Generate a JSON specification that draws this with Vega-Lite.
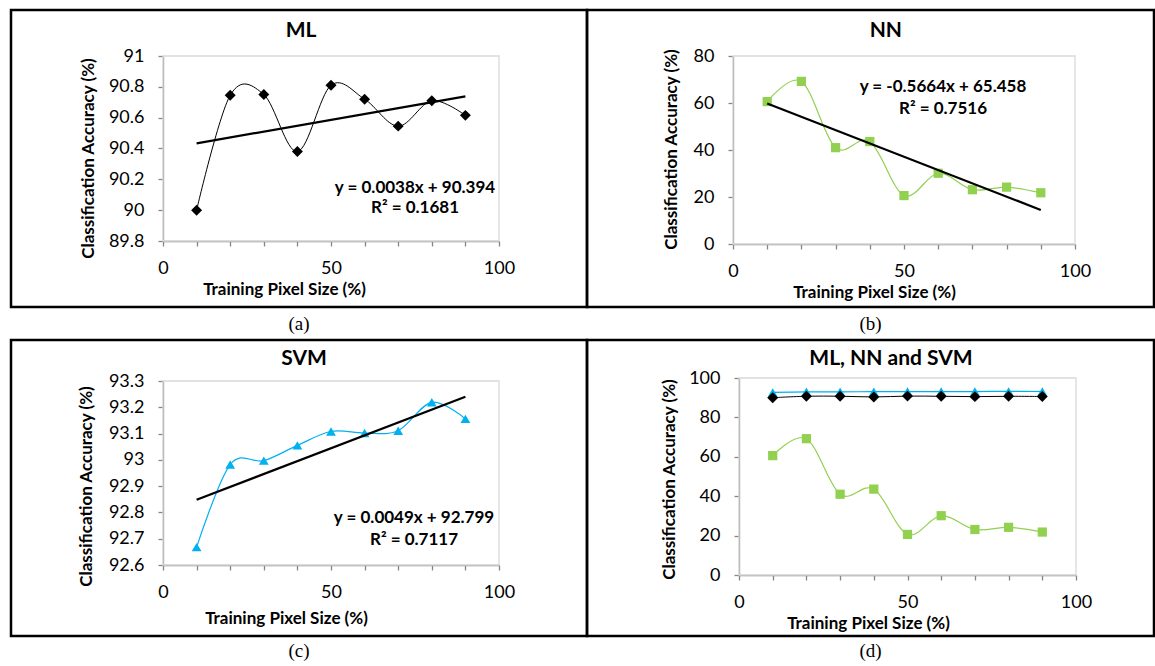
{
  "$schema": "https://vega.github.io/schema/vega-lite/v6.json",
  "background": "white",
  "padding": {"left": 9, "top": 8, "right": 0, "bottom": 0},
  "datasets": {
    "ml": [
      {"x": 10, "acc": 90.0}, {"x": 20, "acc": 90.745}, {"x": 30, "acc": 90.75},
      {"x": 40, "acc": 90.38}, {"x": 50, "acc": 90.81}, {"x": 60, "acc": 90.72},
      {"x": 70, "acc": 90.545}, {"x": 80, "acc": 90.71}, {"x": 90, "acc": 90.615}
    ],
    "nn": [
      {"x": 10, "acc": 60.6}, {"x": 20, "acc": 69.2}, {"x": 30, "acc": 41.0},
      {"x": 40, "acc": 43.6}, {"x": 50, "acc": 20.6}, {"x": 60, "acc": 30.1},
      {"x": 70, "acc": 23.1}, {"x": 80, "acc": 24.2}, {"x": 90, "acc": 21.8}
    ],
    "svm": [
      {"x": 10, "acc": 92.668}, {"x": 20, "acc": 92.982}, {"x": 30, "acc": 92.997},
      {"x": 40, "acc": 93.055}, {"x": 50, "acc": 93.108}, {"x": 60, "acc": 93.102},
      {"x": 70, "acc": 93.111}, {"x": 80, "acc": 93.219}, {"x": 90, "acc": 93.156}
    ]
  },
  "columns": 2,
  "spacing": 0,
  "bounds": "flush",
  "concat": [
    {
      "width": 576, "height": 297,
      "layer": [
        {
          "data": {"values": [{}]},
          "mark": {"type": "rect", "fill": null, "stroke": "#d9d9d9", "strokeWidth": 1.3},
          "encoding": {
            "x": {"datum": 0, "type": "quantitative"}, "x2": {"datum": 100},
            "y": {"datum": 89.8, "type": "quantitative"}, "y2": {"datum": 91}
          }
        },
        {
          "data": {"name": "ml"},
          "mark": {"type": "line", "interpolate": "cardinal", "tension": 0, "color": "#000000", "strokeWidth": 1},
          "encoding": {
            "x": {"field": "x", "type": "quantitative",
              "scale": {"domain": [0, 100], "range": [152, 488], "nice": false, "zero": false},
              "axis": {"orient": "bottom", "offset": -66, "values": [0,10,20,30,40,50,60,70,80,90,100],
                "labelExpr": "datum.value % 50 === 0 ? datum.label : ''",
                "title": "Training Pixel Size (%)", "titleX": 273, "titleY": 48, "titleBaseline": "middle", "titleAlign": "center", "titleAngle": 0}},
            "y": {"field": "acc", "type": "quantitative",
              "scale": {"domain": [89.8, 91], "range": [231, 46], "nice": false, "zero": false},
              "axis": {"orient": "left", "offset": -152, "values": [89.8, 90, 90.2, 90.4, 90.6, 90.8, 91], "format": ".1~f",
                "title": "Classification Accuracy (%)", "titleX": -75, "titleY": 148, "titleBaseline": "middle", "titleAlign": "center", "titleAngle": -90}}
          }
        },
        {
          "data": {"name": "ml"},
          "mark": {"type": "point", "shape": "diamond", "filled": true, "color": "#000000", "size": 120, "opacity": 1},
          "encoding": {"x": {"field": "x", "type": "quantitative"}, "y": {"field": "acc", "type": "quantitative"}}
        },
        {
          "data": {"name": "ml"},
          "transform": [{"regression": "acc", "on": "x"}],
          "mark": {"type": "line", "color": "#000000", "strokeWidth": 2.2},
          "encoding": {"x": {"field": "x", "type": "quantitative"}, "y": {"field": "acc", "type": "quantitative"}}
        },
        {
          "data": {"values": [{}]},
          "mark": {"type": "text", "text": ["y = 0.0038x + 90.394", "R² = 0.1681"], "font": "Lato", "fontWeight": "bold", "fontSize": 17, "lineHeight": 20, "align": "center", "baseline": "middle", "color": "#000000"},
          "encoding": {"x": {"datum": 75, "type": "quantitative"}, "y": {"datum": 90.147, "type": "quantitative"}}
        },
        {
          "data": {"values": [{"t": "ML"}]},
          "mark": {"type": "text", "font": "Lato", "fontWeight": "bold", "fontSize": 21, "align": "center", "baseline": "middle", "color": "#000000"},
          "encoding": {"text": {"field": "t"}, "x": {"datum": 41.1, "type": "quantitative"}, "y": {"datum": 91.162, "type": "quantitative"}}
        }
      ]
    },
    {
      "width": 567, "height": 297,
      "layer": [
        {
          "data": {"values": [{}]},
          "mark": {"type": "rect", "fill": null, "stroke": "#d9d9d9", "strokeWidth": 1.3},
          "encoding": {
            "x": {"datum": 0, "type": "quantitative"}, "x2": {"datum": 100},
            "y": {"datum": 0, "type": "quantitative"}, "y2": {"datum": 80}
          }
        },
        {
          "data": {"name": "nn"},
          "mark": {"type": "line", "interpolate": "cardinal", "tension": 0, "color": "#92d050", "strokeWidth": 1.2},
          "encoding": {
            "x": {"field": "x", "type": "quantitative",
              "scale": {"domain": [0, 100], "range": [146, 488], "nice": false, "zero": false},
              "axis": {"orient": "bottom", "offset": -63, "values": [0,10,20,30,40,50,60,70,80,90,100],
                "labelExpr": "datum.value % 50 === 0 ? datum.label : ''",
                "title": "Training Pixel Size (%)", "titleX": 287, "titleY": 48, "titleBaseline": "middle", "titleAlign": "center", "titleAngle": 0}},
            "y": {"field": "acc", "type": "quantitative",
              "scale": {"domain": [0, 80], "range": [234, 46], "nice": false, "zero": false},
              "axis": {"orient": "left", "offset": -146, "values": [0, 20, 40, 60, 80], "format": "d",
                "title": "Classification Accuracy (%)", "titleX": -62, "titleY": 139, "titleBaseline": "middle", "titleAlign": "center", "titleAngle": -90}}
          }
        },
        {
          "data": {"name": "nn"},
          "mark": {"type": "point", "shape": "square", "filled": true, "color": "#92d050", "size": 85, "opacity": 1},
          "encoding": {"x": {"field": "x", "type": "quantitative"}, "y": {"field": "acc", "type": "quantitative"}}
        },
        {
          "data": {"name": "nn"},
          "transform": [{"regression": "acc", "on": "x"}],
          "mark": {"type": "line", "color": "#000000", "strokeWidth": 2.2},
          "encoding": {"x": {"field": "x", "type": "quantitative"}, "y": {"field": "acc", "type": "quantitative"}}
        },
        {
          "data": {"values": [{}]},
          "mark": {"type": "text", "text": ["y = -0.5664x + 65.458", "R² = 0.7516"], "font": "Lato", "fontWeight": "bold", "fontSize": 17, "lineHeight": 22, "align": "center", "baseline": "middle", "color": "#000000"},
          "encoding": {"x": {"datum": 61.4, "type": "quantitative"}, "y": {"datum": 66.8, "type": "quantitative"}}
        },
        {
          "data": {"values": [{"t": "NN"}]},
          "mark": {"type": "text", "font": "Lato", "fontWeight": "bold", "fontSize": 21, "align": "center", "baseline": "middle", "color": "#000000"},
          "encoding": {"text": {"field": "t"}, "x": {"datum": 44.7, "type": "quantitative"}, "y": {"datum": 90.6, "type": "quantitative"}}
        }
      ]
    },
    {
      "width": 576, "height": 33,
      "data": {"values": [{"cap": "(a)"}]},
      "mark": {"type": "text", "font": "Liberation Serif", "fontSize": 19, "baseline": "middle", "align": "center", "color": "#000000"},
      "encoding": {"text": {"field": "cap"}}
    },
    {
      "width": 567, "height": 33,
      "data": {"values": [{"cap": "(b)"}]},
      "mark": {"type": "text", "font": "Liberation Serif", "fontSize": 19, "baseline": "middle", "align": "center", "color": "#000000"},
      "encoding": {"text": {"field": "cap"}}
    },
    {
      "width": 576, "height": 296,
      "layer": [
        {
          "data": {"values": [{}]},
          "mark": {"type": "rect", "fill": null, "stroke": "#d9d9d9", "strokeWidth": 1.3},
          "encoding": {
            "x": {"datum": 0, "type": "quantitative"}, "x2": {"datum": 100},
            "y": {"datum": 92.6, "type": "quantitative"}, "y2": {"datum": 93.3}
          }
        },
        {
          "data": {"name": "svm"},
          "mark": {"type": "line", "interpolate": "cardinal", "tension": 0, "color": "#00b0f0", "strokeWidth": 1.2},
          "encoding": {
            "x": {"field": "x", "type": "quantitative",
              "scale": {"domain": [0, 100], "range": [152, 488], "nice": false, "zero": false},
              "axis": {"orient": "bottom", "offset": -71, "values": [0,10,20,30,40,50,60,70,80,90,100],
                "labelExpr": "datum.value % 50 === 0 ? datum.label : ''",
                "title": "Training Pixel Size (%)", "titleX": 275, "titleY": 53, "titleBaseline": "middle", "titleAlign": "center", "titleAngle": 0}},
            "y": {"field": "acc", "type": "quantitative",
              "scale": {"domain": [92.6, 93.3], "range": [225, 41], "nice": false, "zero": false},
              "axis": {"orient": "left", "offset": -152, "values": [92.6, 92.7, 92.8, 92.9, 93, 93.1, 93.2, 93.3], "format": ".1~f",
                "title": "Classification Accuracy (%)", "titleX": -77, "titleY": 146, "titleBaseline": "middle", "titleAlign": "center", "titleAngle": -90}}
          }
        },
        {
          "data": {"name": "svm"},
          "mark": {"type": "point", "shape": "triangle-up", "filled": true, "color": "#00b0f0", "size": 95, "opacity": 1},
          "encoding": {"x": {"field": "x", "type": "quantitative"}, "y": {"field": "acc", "type": "quantitative"}}
        },
        {
          "data": {"name": "svm"},
          "transform": [{"regression": "acc", "on": "x"}],
          "mark": {"type": "line", "color": "#000000", "strokeWidth": 2.2},
          "encoding": {"x": {"field": "x", "type": "quantitative"}, "y": {"field": "acc", "type": "quantitative"}}
        },
        {
          "data": {"values": [{}]},
          "mark": {"type": "text", "text": ["y = 0.0049x + 92.799", "R² = 0.7117"], "font": "Lato", "fontWeight": "bold", "fontSize": 17, "lineHeight": 22, "align": "center", "baseline": "middle", "color": "#000000"},
          "encoding": {"x": {"datum": 74.7, "type": "quantitative"}, "y": {"datum": 92.78, "type": "quantitative"}}
        },
        {
          "data": {"values": [{"t": "SVM"}]},
          "mark": {"type": "text", "font": "Lato", "fontWeight": "bold", "fontSize": 21, "align": "center", "baseline": "middle", "color": "#000000"},
          "encoding": {"text": {"field": "t"}, "x": {"datum": 42.0, "type": "quantitative"}, "y": {"datum": 93.384, "type": "quantitative"}}
        }
      ]
    },
    {
      "width": 567, "height": 296,
      "layer": [
        {
          "data": {"values": [{}]},
          "mark": {"type": "rect", "fill": null, "stroke": "#d9d9d9", "strokeWidth": 1.3},
          "encoding": {
            "x": {"datum": 0, "type": "quantitative"}, "x2": {"datum": 100},
            "y": {"datum": 0, "type": "quantitative"}, "y2": {"datum": 100}
          }
        },
        {
          "data": {"name": "svm"},
          "mark": {"type": "line", "interpolate": "cardinal", "tension": 0, "color": "#00b0f0", "strokeWidth": 1.2},
          "encoding": {
            "x": {"field": "x", "type": "quantitative",
              "scale": {"domain": [0, 100], "range": [152, 489], "nice": false, "zero": false},
              "axis": {"orient": "bottom", "offset": -61, "values": [0,10,20,30,40,50,60,70,80,90,100],
                "labelExpr": "datum.value % 50 === 0 ? datum.label : ''",
                "title": "Training Pixel Size (%)", "titleX": 281, "titleY": 48, "titleBaseline": "middle", "titleAlign": "center", "titleAngle": 0}},
            "y": {"field": "acc", "type": "quantitative",
              "scale": {"domain": [0, 100], "range": [235, 38], "nice": false, "zero": false},
              "axis": {"orient": "left", "offset": -152, "values": [0, 20, 40, 60, 80, 100], "format": "d",
                "title": "Classification Accuracy (%)", "titleX": -70, "titleY": 139, "titleBaseline": "middle", "titleAlign": "center", "titleAngle": -90}}
          }
        },
        {
          "data": {"name": "svm"},
          "mark": {"type": "point", "shape": "triangle-up", "filled": true, "color": "#00b0f0", "size": 95, "opacity": 1},
          "encoding": {"x": {"field": "x", "type": "quantitative"}, "y": {"field": "acc", "type": "quantitative"}}
        },
        {
          "data": {"name": "nn"},
          "mark": {"type": "line", "interpolate": "cardinal", "tension": 0, "color": "#92d050", "strokeWidth": 1.2},
          "encoding": {"x": {"field": "x", "type": "quantitative"}, "y": {"field": "acc", "type": "quantitative"}}
        },
        {
          "data": {"name": "nn"},
          "mark": {"type": "point", "shape": "square", "filled": true, "color": "#92d050", "size": 85, "opacity": 1},
          "encoding": {"x": {"field": "x", "type": "quantitative"}, "y": {"field": "acc", "type": "quantitative"}}
        },
        {
          "data": {"name": "ml"},
          "mark": {"type": "line", "interpolate": "cardinal", "tension": 0, "color": "#000000", "strokeWidth": 1},
          "encoding": {"x": {"field": "x", "type": "quantitative"}, "y": {"field": "acc", "type": "quantitative"}}
        },
        {
          "data": {"name": "ml"},
          "mark": {"type": "point", "shape": "diamond", "filled": true, "color": "#000000", "size": 120, "opacity": 1},
          "encoding": {"x": {"field": "x", "type": "quantitative"}, "y": {"field": "acc", "type": "quantitative"}}
        },
        {
          "data": {"values": [{"t": "ML, NN and SVM"}]},
          "mark": {"type": "text", "font": "Lato", "fontWeight": "bold", "fontSize": 21, "align": "center", "baseline": "middle", "color": "#000000"},
          "encoding": {"text": {"field": "t"}, "x": {"datum": 45.1, "type": "quantitative"}, "y": {"datum": 109.6, "type": "quantitative"}}
        }
      ]
    },
    {
      "width": 576, "height": 30,
      "data": {"values": [{"cap": "(c)"}]},
      "mark": {"type": "text", "font": "Liberation Serif", "fontSize": 19, "baseline": "middle", "align": "center", "color": "#000000"},
      "encoding": {"text": {"field": "cap"}}
    },
    {
      "width": 567, "height": 30,
      "data": {"values": [{"cap": "(d)"}]},
      "mark": {"type": "text", "font": "Liberation Serif", "fontSize": 19, "baseline": "middle", "align": "center", "color": "#000000"},
      "encoding": {"text": {"field": "cap"}}
    }
  ],
  "config": {
    "view": {"stroke": "#000000", "strokeWidth": 2.5},
    "concat": {"spacing": 0},
    "axis": {
      "grid": false,
      "domainColor": "#868686", "domainWidth": 1.3,
      "tickColor": "#868686", "tickWidth": 1.3, "tickSize": 5,
      "labelFont": "Lato", "labelFontSize": 18, "labelColor": "#000000", "labelPadding": 13,
      "labelFlush": false, "labelOverlap": false,
      "titleFont": "Lato", "titleFontSize": 17, "titleFontWeight": "bold", "titleColor": "#000000"
    },
    "axisY": {"labelPadding": 14}
  }
}
